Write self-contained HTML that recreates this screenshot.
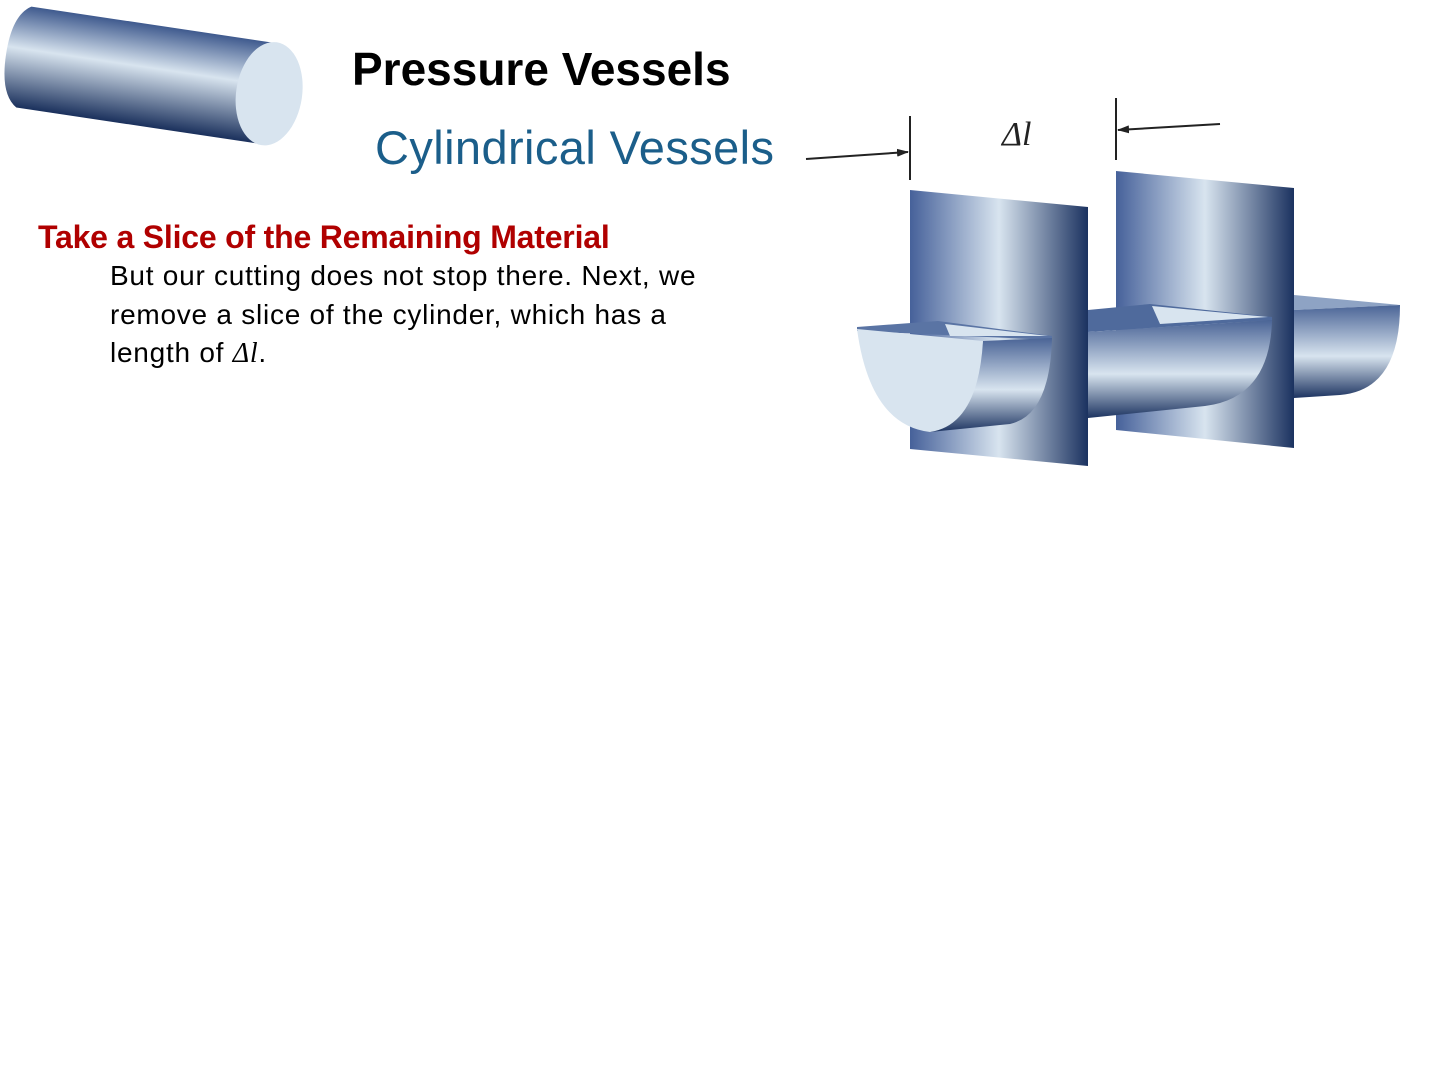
<!DOCTYPE html>
<html><head><meta charset="utf-8"><style>
html,body{margin:0;padding:0;background:#fff;}
body{width:1440px;height:1080px;position:relative;overflow:hidden;font-family:"Liberation Sans",sans-serif;}
.t{position:absolute;white-space:nowrap;}
</style></head><body>
<svg width="1440" height="1080" style="position:absolute;left:0;top:0">
<defs>
<linearGradient id="cyl" x1="0" y1="0" x2="0" y2="1">
<stop offset="0" stop-color="#3f5a8e"/><stop offset="0.42" stop-color="#d8e4ef"/><stop offset="1" stop-color="#1a305c"/>
</linearGradient>
<linearGradient id="barrel" x1="0" y1="0" x2="0" y2="1">
<stop offset="0" stop-color="#4a6496"/><stop offset="0.55" stop-color="#d8e4ef"/><stop offset="1" stop-color="#1d3461"/>
</linearGradient>
<linearGradient id="plate" x1="0" y1="0" x2="1" y2="0">
<stop offset="0" stop-color="#46619a"/><stop offset="0.5" stop-color="#d8e4ef"/><stop offset="1" stop-color="#1b3260"/>
</linearGradient>
<marker id="ah" markerWidth="12" markerHeight="8" refX="11" refY="4" orient="auto" markerUnits="userSpaceOnUse">
<path d="M0,0 L12,4 L0,8 z" fill="#222"/></marker>
</defs>
<g transform="translate(10,55) rotate(8.5)">
<path d="M14,-51 L262,-51 L262,51 L14,51 Q-4,40 -4,0 Q-4,-40 14,-51 z" fill="url(#cyl)"/>
<ellipse cx="262" cy="0" rx="33" ry="52" fill="#d8e4ef"/>
</g>
<polygon points="910,190 1088,207 1088,466 910,449" fill="url(#plate)"/>
<polygon points="1116,171 1294,188 1294,448 1116,430" fill="url(#plate)"/>
<polygon points="1088,310 1150,304 1272,317 1272,320 1088,332" fill="#4f6a9c"/>
<polygon points="1152,306 1268,317 1160,324" fill="#d8e4ef"/>
<path d="M1088,332 L1272,320 Q1270,398 1205,406 L1088,418 z" fill="url(#barrel)"/>
<polygon points="1294,295 1400,305 1294,310" fill="#8ea3c4"/>
<path d="M1294,310 L1400,305 Q1400,390 1340,395 L1294,398 z" fill="url(#barrel)"/>
<polygon points="857,327 938,321 1052,336 1052,340 857,331" fill="#5a74a4"/>
<polygon points="945,324 1048,336 950,336" fill="#d8e4ef"/>
<path d="M983,341 L1052,338 Q1050,415 1010,424 L930,432 Q975,410 983,341 z" fill="url(#barrel)"/>
<path d="M857,329 L983,341 Q978,425 930,432 Q870,425 857,329 z" fill="#d8e4ef"/>
<line x1="910" y1="116" x2="910" y2="180" stroke="#222" stroke-width="2"/>
<line x1="1116" y1="98" x2="1116" y2="160" stroke="#222" stroke-width="2"/>
<line x1="806" y1="159" x2="908" y2="152" stroke="#222" stroke-width="2" marker-end="url(#ah)"/>
<line x1="1220" y1="124" x2="1118" y2="130" stroke="#222" stroke-width="2" marker-end="url(#ah)"/>
<text x="1002" y="145" font-family="Liberation Serif" font-style="italic" font-size="34" fill="#222">Δl</text>
</svg>
<div class="t" style="left:352px;top:42px;font-size:46px;font-weight:bold;color:#000">Pressure Vessels</div>
<div class="t" style="left:375px;top:120px;font-size:47px;color:#1b5e8a;letter-spacing:0.4px">Cylindrical Vessels</div>
<div class="t" style="left:38px;top:219px;font-size:32px;font-weight:bold;color:#b00000;letter-spacing:-0.2px">Take a Slice of the Remaining Material</div>
<div class="t" style="left:110px;top:257px;font-size:28px;line-height:38.5px;color:#000;letter-spacing:0.75px">But our cutting does not stop there. Next, we<br>remove a slice of the cylinder, which has a<br>length of <i style="font-family:'Liberation Serif'">Δl</i>.</div>
</body></html>
